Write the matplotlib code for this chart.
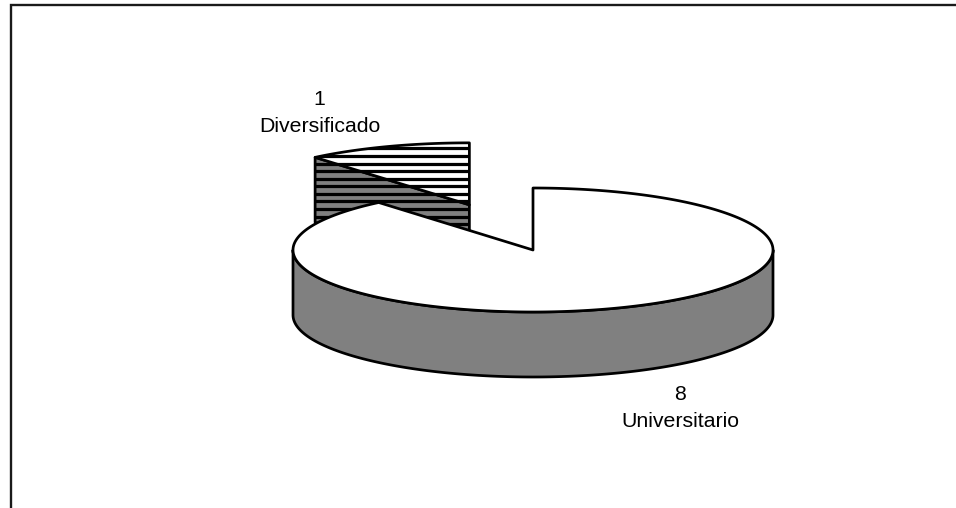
import numpy as np
import matplotlib
matplotlib.use("Agg")
import matplotlib.pyplot as plt
from matplotlib.patches import Polygon

# Education level counts
categories = ["Universitario", "Diversificado"]
values = [8, 1]

DPI = 89
W, H = 956, 508
plt.rcParams["font.family"] = ["Liberation Sans", "DejaVu Sans"]

# Canvas in pixel units, y pointing down
fig = plt.figure(figsize=(W / DPI, H / DPI), dpi=DPI, facecolor="white")
ax = fig.add_axes([0, 0, 1, 1])
ax.set_xlim(0, W)
ax.set_ylim(H, 0)
ax.axis("off")

# Pie geometry
CX, CY = 533.0, 250.0
RX, RY = 240.0, 62.0
DEPTH = 65.0
EXPLODE = 0.775
GRAY = "#808080"
LW = 2.2
STRIPE_FIRST, STRIPE_STEP, STRIPE_LW = 148.4, 7.58, 2.6


def arc(cx, cy, a0, a1, dy=0.0, n=200):
    """Rim points between two angles, measured clockwise from the top."""
    t = np.radians(np.linspace(a0, a1, n))
    return np.column_stack([cx + RX * np.sin(t), cy + dy - RY * np.cos(t)])


def add(points, face, striped=False, z=1):
    """Filled polygon, optionally with horizontal stripes under its outline."""
    ax.add_patch(Polygon(points, closed=True, facecolor=face, edgecolor="none", zorder=z))
    if striped:
        clip = Polygon(points, closed=True, transform=ax.transData)
        x0, x1 = points[:, 0].min(), points[:, 0].max()
        for y in np.arange(STRIPE_FIRST, points[:, 1].max(), STRIPE_STEP):
            line, = ax.plot([x0, x1], [y, y], color="black", lw=STRIPE_LW,
                            solid_capstyle="butt", zorder=z)
            line.set_clip_path(clip)
    ax.add_patch(Polygon(points, closed=True, facecolor="none", edgecolor="black",
                         linewidth=LW, joinstyle="round", zorder=z))


fractions = np.array(values) / sum(values)
big_end = 360.0 * fractions[0]

# Exploded slice, pulled out along its middle angle
mid = np.radians((big_end + 360.0) / 2)
sx = CX + RX * EXPLODE * np.sin(mid)
sy = CY - RY * EXPLODE * np.cos(mid)
rim = arc(sx, sy, big_end, 360.0)
add(np.array([rim[0], [sx, sy], [sx, sy + DEPTH], [rim[0][0], rim[0][1] + DEPTH]]),
    GRAY, striped=True, z=1)
add(np.vstack([[[sx, sy]], rim]), "white", striped=True, z=2)

# Main slice: outer wall, then the top face
wall_top = arc(CX, CY, 90.0, 270.0)
wall_bottom = arc(CX, CY, 270.0, 90.0, dy=DEPTH)
add(np.vstack([wall_top, wall_bottom]), GRAY, z=3)
add(np.vstack([[[CX, CY]], arc(CX, CY, 0.0, big_end, n=400)]), "white", z=4)

# Data labels
label_pos = [(680, 408), (319.5, 113)]
for name, val, (lx, ly) in zip(categories, values, label_pos):
    ax.text(lx, ly, f"{val}\n{name}", ha="center", va="center", fontsize=17.2,
            linespacing=1.5, color="black", zorder=5)

# Chart frame: only the top and left rules are on the canvas
ax.plot([11, 11, W], [H, 5, 5], color="#1a1a1a", lw=1.9, solid_joinstyle="miter",
        solid_capstyle="butt", zorder=6)

fig.savefig("out.png", dpi=DPI, facecolor="white")
